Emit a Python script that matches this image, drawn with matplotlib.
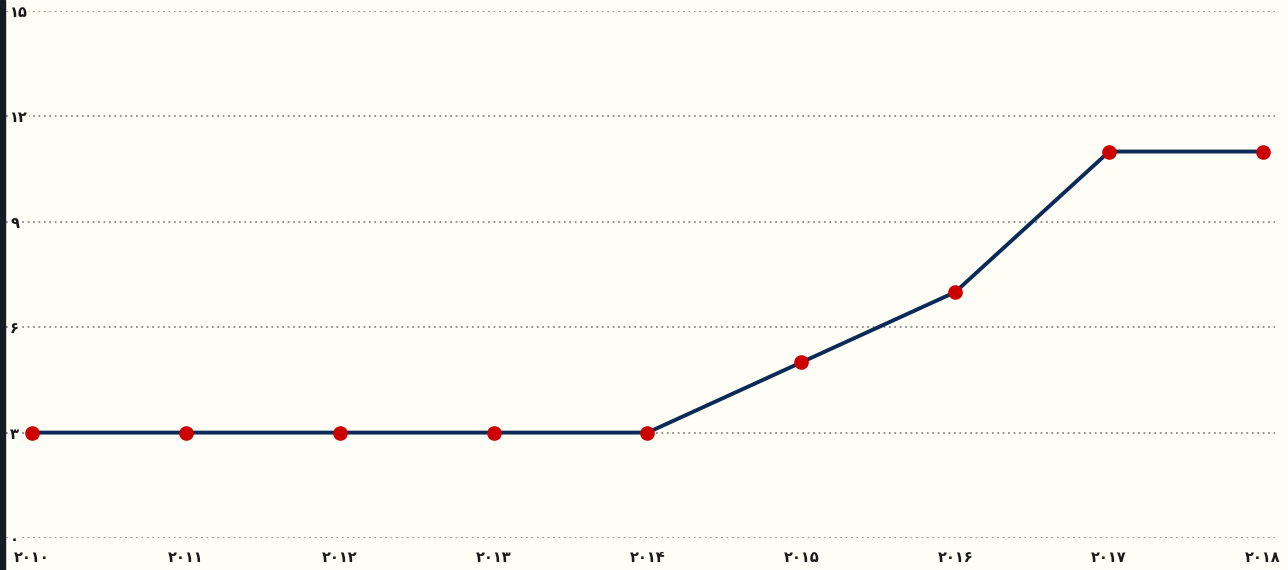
import matplotlib
matplotlib.use("Agg")
import matplotlib.pyplot as plt
from matplotlib.patches import Rectangle

# data
years = [2010, 2011, 2012, 2013, 2014, 2015, 2016, 2017, 2018]
values = [3, 3, 3, 3, 3, 5, 7, 11, 11]
y_ticks = [0, 3, 6, 9, 12, 15]

FA_DIGITS = str.maketrans("0123456789", "۰۱۲۳۴۵۶۷۸۹")


def fa(n):
    return str(n).translate(FA_DIGITS)


plt.rcParams['font.family'] = ['DejaVu Sans', 'Noto Sans']

bg = "#fffef6"
fig = plt.figure(figsize=(12.88, 5.70), dpi=100, facecolor=bg)
ax = fig.add_axes([6 / 1288, 32 / 570, 1269 / 1288, 527 / 570])
ax.set_facecolor(bg)

# dark strip on the left edge
fig.patches.append(Rectangle((0, 0), 5 / 1288, 1, transform=fig.transFigure,
                             color="#151b22", zorder=10))

ax.plot(years, values, color="#0b2a57", lw=2.8, zorder=3, clip_on=False)
ax.plot(years, values, "o", color="#cc0000", ms=9.5, zorder=4, clip_on=False)

px_per_year = 153.9
ax.set_xlim(2010 - 26 / px_per_year, 2018 + 12 / px_per_year)
ax.set_ylim(0, 15)

ax.set_yticks(y_ticks)
ax.set_yticklabels([fa(v) for v in y_ticks], fontsize=10.5, fontweight="bold",
                   color="#1a1a1a")
ax.tick_params(axis="y", length=0, pad=-3)
for lab in ax.get_yticklabels():
    lab.set_horizontalalignment("left")
    lab.set_bbox(dict(facecolor=bg, edgecolor="none", pad=0.5))

ax.set_xticks(years)
ax.set_xticklabels([fa(y) for y in years], fontsize=10.5, fontweight="bold",
                   color="#1a1a1a")
ax.tick_params(axis="x", length=0, pad=9)

ax.grid(axis="y", color="#8a8a8a", linestyle=(0, (1, 2)), lw=1.3, zorder=1)
ax.grid(axis="x", visible=False)
for s in ax.spines.values():
    s.set_visible(False)

fig.savefig("out.png", dpi=100, facecolor=bg)
